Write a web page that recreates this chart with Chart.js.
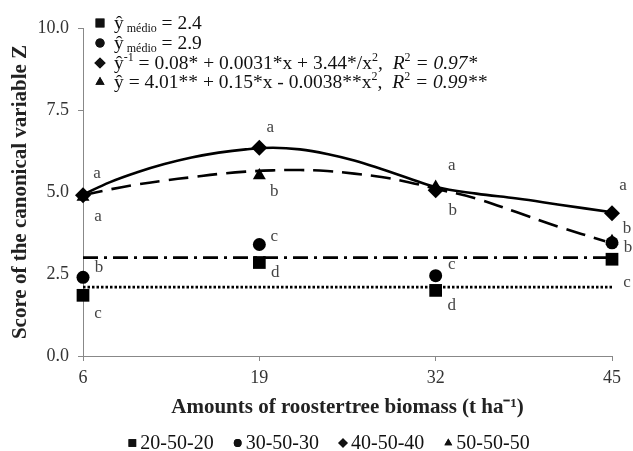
<!DOCTYPE html>
<html>
<head>
<meta charset="utf-8">
<script src="https://cdn.jsdelivr.net/npm/chart.js@4.4.1/dist/chart.umd.min.js"></script>
<style>
html, body { margin: 0; padding: 0; background: #fff; }
#wrap { width: 633px; height: 451px; }
</style>
</head>
<body>
<div id="wrap"><canvas id="chart" width="633" height="451"></canvas></div>
<script>
// amounts of biomass (t ha-1)
const doses = [6, 19, 32, 45];
const xTicks = [6, 19, 32, 45];
const yTicks = [0, 2.5, 5, 7.5, 10];
const seriesNames = ["20-50-20", "30-50-30", "40-50-40", "50-50-50"];

// scores of the canonical variable Z
const score20 = [1.85, 2.85, 2.0, 2.95];
const score30 = [2.4, 3.4, 2.45, 3.45];
const score40 = [4.9, 6.35, 5.05, 4.35];
const score50 = [4.85, 5.5, 5.15, 3.5];

// letras de comparacao
const letters20 = ["c", "d", "d", "c"];
const letters30 = ["b", "c", "c", "b"];
const letters40 = ["a", "a", "b", "a"];
const letters50 = ["a", "b", "a", "b"];

// curvas ajustadas
const fit40X = [6, 8, 10, 12, 14, 16, 18, 20, 22, 24, 26, 28, 30, 32, 35, 38, 41, 45];
const fit40Y = [4.92, 5.3, 5.6, 5.85, 6.05, 6.2, 6.3, 6.35, 6.3, 6.16, 5.96, 5.7, 5.42, 5.15, 4.95, 4.8, 4.62, 4.38];
const fit50X = [6, 8, 10, 12, 14, 16, 18, 20, 22, 24, 26, 28, 30, 32, 35, 38, 41, 44.5];
const fit50Y = [4.9, 5.08, 5.23, 5.35, 5.45, 5.55, 5.62, 5.66, 5.67, 5.64, 5.56, 5.46, 5.3, 5.1, 4.8, 4.38, 3.95, 3.5];

// linhas das medias (como desenhadas)
const meanLine20 = 2.1;
const meanLine30 = 3.0;

// equacoes da legenda
const eqRows = [
    [{ t: "ŷ" }, { t: " médio", sub: true }, { t: " = 2.4" }],
    [{ t: "ŷ" }, { t: " médio", sub: true }, { t: " = 2.9" }],
    [{ t: "ŷ" }, { t: "-1", sup: true }, { t: " = 0.08* + 0.0031*x + 3.44*/x" }, { t: "2", sup: true },
     { t: ",  " }, { t: "R", it: true }, { t: "2", sup: true }, { t: " = 0.97*", it: true }],
    [{ t: "ŷ = 4.01** + 0.15*x - 0.0038**x" }, { t: "2", sup: true },
     { t: ",  " }, { t: "R", it: true }, { t: "2", sup: true }, { t: " = 0.99**", it: true }],
];

const SERIF = '"Liberation Serif", "Times New Roman", serif';
const styles = ["rect", "circle", "rectRot", "triangle"];
const radii = [9, 6.5, 8, 7.5];

const toPts = (xs, ys) => xs.map((x, i) => ({ x: x, y: ys[i] }));
const hline = (v) => [{ x: 6, y: v }, { x: 45, y: v }];

function markerSet(label, values, i) {
    return {
        label: label,
        data: toPts(doses, values),
        showLine: false,
        pointStyle: styles[i],
        pointRadius: radii[i],
        pointHoverRadius: radii[i],
        backgroundColor: "#000",
        borderColor: "#000",
        borderWidth: 0,
        clip: false,
        order: 0,
    };
}

function lineSet(pts, dash, tension) {
    return {
        data: pts,
        showLine: true,
        borderColor: "#000",
        borderWidth: 2.6,
        borderDash: dash,
        pointRadius: 0,
        tension: tension,
        clip: false,
        order: 1,
    };
}

// posicao das letras em relacao ao ponto (dx, dy)
const letterOffsets = [
    [[15, 18], [16, 10], [16, 15], [15, 23]],
    [[16, -10], [15, -8], [16, -11], [16, 5]],
    [[14, -22], [11, -20], [17, 20], [11, -28]],
    [[15, 20], [15, 16], [16, -22], [15, -13]],
];

const annotPlugin = {
    id: "annot",
    afterDatasetsDraw(chart) {
        const ctx = chart.ctx;
        const xs = chart.scales.x, ys = chart.scales.y;
        const allLetters = [letters20, letters30, letters40, letters50];
        const allScores = [score20, score30, score40, score50];
        ctx.save();
        ctx.fillStyle = "#444";
        ctx.font = "17px " + SERIF;
        ctx.textAlign = "center";
        ctx.textBaseline = "middle";
        allLetters.forEach((lets, s) => {
            lets.forEach((l, i) => {
                const px = xs.getPixelForValue(doses[i]);
                const py = ys.getPixelForValue(allScores[s][i]);
                const o = letterOffsets[s][i];
                ctx.fillText(l, px + o[0], py + o[1]);
            });
        });

        // legenda superior com equacoes
        ctx.textAlign = "left";
        ctx.textBaseline = "alphabetic";
        const rowY = [23, 43, 63, 82];
        eqRows.forEach((parts, r) => {
            Chart.helpers.drawPoint(ctx, { pointStyle: styles[r], radius: radii[r] * 0.7, borderWidth: 0 }, 100, rowY[r]);
            ctx.fillStyle = "#111";
            ctx.fill();
            let x = 114;
            const size = 19.5;
            parts.forEach((p) => {
                let fs = size, dy = 0;
                if (p.sub) { fs = 12; dy = 3; }
                if (p.sup) { fs = 12; dy = -8; }
                ctx.font = (p.it ? "italic " : "") + fs + "px " + SERIF;
                ctx.fillText(p.t, x, rowY[r] + 6 + dy);
                x += ctx.measureText(p.t).width;
            });
        });

        // legenda inferior
        ctx.font = "20px " + SERIF;
        const gap = 20, mk = 12;
        const widths = seriesNames.map((n) => mk + ctx.measureText(n).width);
        const total = widths.reduce((a, b) => a + b, 0) + gap * (seriesNames.length - 1);
        let lx = 329 - total / 2;
        const ly = 443;
        seriesNames.forEach((n, i) => {
            Chart.helpers.drawPoint(ctx, { pointStyle: styles[i], radius: radii[i] * 0.6, borderWidth: 0 }, lx + 4, ly);
            ctx.fillStyle = "#111";
            ctx.fill();
            ctx.textBaseline = "middle";
            ctx.fillText(n, lx + mk, ly + 1);
            lx += widths[i] + gap;
        });
        ctx.restore();
    },
};

new Chart(document.getElementById("chart"), {
    type: "scatter",
    data: {
        datasets: [
            markerSet(seriesNames[0], score20, 0),
            markerSet(seriesNames[1], score30, 1),
            markerSet(seriesNames[2], score40, 2),
            markerSet(seriesNames[3], score50, 3),
            lineSet(toPts(fit40X, fit40Y), [], 0.4),
            lineSet(toPts(fit50X, fit50Y), [20, 9], 0.4),
            lineSet(hline(meanLine30), [15, 6, 3, 6], 0),
            lineSet(hline(meanLine20), [2.5, 2], 0),
        ],
    },
    options: {
        responsive: false,
        devicePixelRatio: 1,
        animation: false,
        layout: { padding: { top: 28, right: 21, bottom: 0, left: 0 } },
        plugins: {
            legend: { display: false },
            tooltip: { enabled: false },
        },
        scales: {
            x: {
                type: "linear",
                min: 6,
                max: 45,
                afterBuildTicks: (s) => { s.ticks = xTicks.map((v) => ({ value: v })); },
                afterFit: (s) => { s.height = 95; },
                grid: { drawOnChartArea: false, drawTicks: true, tickLength: 5, color: "#888" },
                border: { color: "#888", width: 1 },
                ticks: { color: "#333", padding: 6, font: { family: SERIF, size: 18 } },
                title: {
                    display: true,
                    text: "Amounts of roostertree biomass (t ha⁻¹)",
                    color: "#222",
                    font: { family: SERIF, size: 21, weight: "bold" },
                    padding: { top: 0, bottom: 31 },
                },
            },
            y: {
                min: 0,
                max: 10,
                afterBuildTicks: (s) => { s.ticks = yTicks.map((v) => ({ value: v })); },
                afterFit: (s) => { s.width = 83; },
                grid: { drawOnChartArea: false, drawTicks: true, tickLength: 5, color: "#888" },
                border: { color: "#888", width: 1 },
                ticks: {
                    color: "#333",
                    padding: 9,
                    font: { family: SERIF, size: 18 },
                    callback: (v) => Number(v).toFixed(1),
                },
                title: {
                    display: true,
                    text: "Score of the canonical variable Z",
                    color: "#222",
                    font: { family: SERIF, size: 21, weight: "bold" },
                    padding: { top: 8, bottom: 0 },
                },
            },
        },
    },
    plugins: [annotPlugin],
});
</script>
</body>
</html>
